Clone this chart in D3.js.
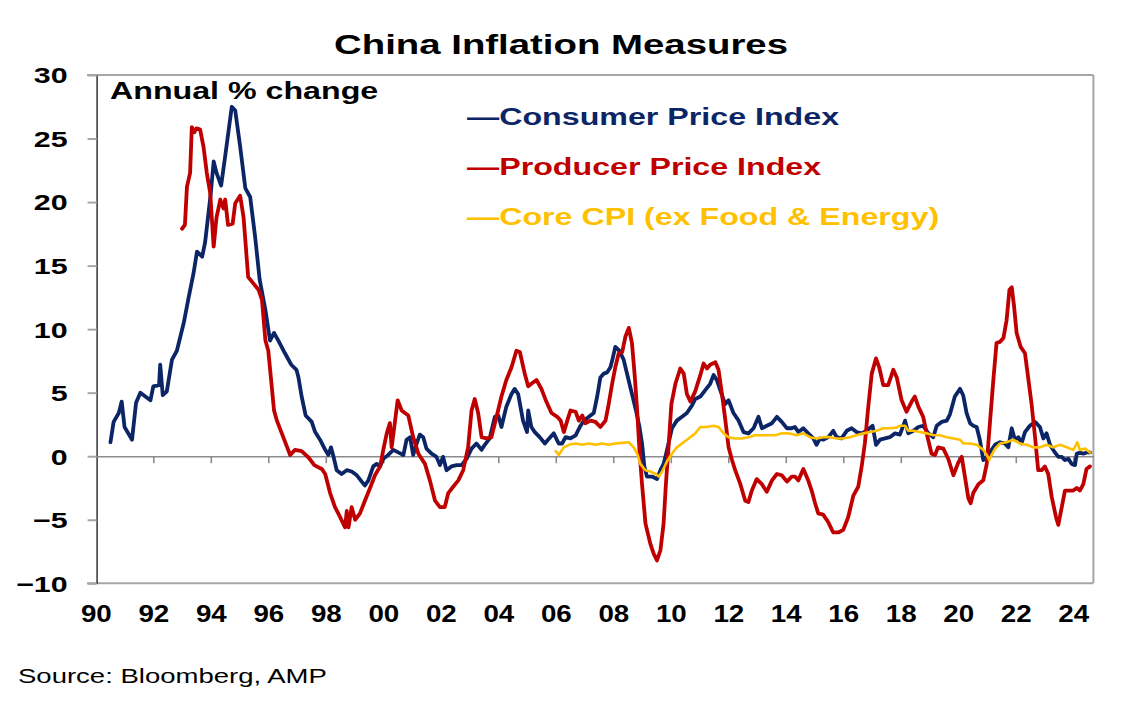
<!DOCTYPE html>
<html><head><meta charset="utf-8">
<script src="https://cdn.jsdelivr.net/npm/d3@7"></script>
<style>body{margin:0;background:#fff}svg{display:block}text{font-family:"Liberation Sans",Arial,sans-serif}</style>
</head><body><svg id="c" width="1124" height="718"></svg>
<script>
// ---- data ----
const titleText = "China Inflation Measures";
const unitText = "Annual % change";
const sourceText = "Source: Bloomberg, AMP";
const seriesNames = ["Consumer Price Index", "Producer Price Index", "Core CPI (ex Food & Energy)"];
const yTicks = [-10, -5, 0, 5, 10, 15, 20, 25, 30];
const xTickYears = [1990,1992,1994,1996,1998,2000,2002,2004,2006,2008,2010,2012,2014,2016,2018,2020,2022,2024];
const xTickLabels = ["90","92","94","96","98","00","02","04","06","08","10","12","14","16","18","20","22","24"];

const cpiYears = [1990.51,1990.62,1990.8,1990.9,1991.0,1991.26,1991.4,1991.55,1991.78,1991.9,1992.0,1992.2,1992.24,1992.33,1992.47,1992.65,1992.82,1993.06,1993.23,1993.4,1993.52,1993.7,1993.8,1994.0,1994.1,1994.2,1994.36,1994.5,1994.73,1994.85,1995.02,1995.2,1995.37,1995.54,1995.7,1995.9,1996.06,1996.2,1996.35,1996.58,1996.8,1996.98,1997.05,1997.16,1997.3,1997.51,1997.63,1997.8,1997.98,1998.09,1998.18,1998.27,1998.38,1998.55,1998.73,1998.9,1999.08,1999.25,1999.36,1999.48,1999.65,1999.77,1999.89,2000.0,2000.17,2000.35,2000.52,2000.7,2000.81,2000.93,2001.04,2001.16,2001.27,2001.39,2001.5,2001.68,2001.85,2001.97,2002.08,2002.2,2002.37,2002.55,2002.72,2002.9,2003.07,2003.24,2003.42,2003.53,2003.7,2003.88,2004.0,2004.11,2004.28,2004.46,2004.57,2004.69,2004.86,2005.0,2005.04,2005.15,2005.27,2005.44,2005.62,2005.73,2005.93,2006.1,2006.22,2006.34,2006.51,2006.69,2006.86,2006.98,2007.15,2007.32,2007.44,2007.55,2007.67,2007.79,2007.9,2007.98,2008.07,2008.21,2008.36,2008.51,2008.65,2008.79,2008.91,2009.0,2009.08,2009.17,2009.35,2009.52,2009.64,2009.75,2009.87,2010.04,2010.21,2010.39,2010.56,2010.74,2010.85,2011.03,2011.2,2011.37,2011.49,2011.6,2011.72,2011.89,2012.01,2012.18,2012.36,2012.53,2012.7,2012.88,2013.05,2013.17,2013.34,2013.52,2013.69,2013.86,2014.04,2014.2,2014.32,2014.44,2014.61,2014.78,2014.96,2015.07,2015.19,2015.3,2015.48,2015.65,2015.77,2015.94,2016.12,2016.29,2016.46,2016.64,2016.81,2017.02,2017.14,2017.28,2017.45,2017.62,2017.8,2017.97,2018.15,2018.26,2018.44,2018.61,2018.78,2018.96,2019.13,2019.25,2019.42,2019.6,2019.71,2019.88,2020.06,2020.17,2020.29,2020.41,2020.52,2020.64,2020.75,2020.87,2020.99,2021.16,2021.28,2021.45,2021.62,2021.74,2021.86,2021.97,2022.09,2022.2,2022.32,2022.49,2022.67,2022.84,2022.96,2023.07,2023.19,2023.36,2023.48,2023.6,2023.71,2023.83,2023.94,2024.06,2024.12,2024.23,2024.35,2024.46,2024.58];
const cpiValues = [1.1,2.7,3.4,4.3,2.3,1.3,4.2,5.0,4.6,4.4,5.5,5.6,7.2,4.8,5.1,7.6,8.3,10.5,12.5,14.4,16.1,15.7,16.8,20.7,23.2,22.3,21.3,23.6,27.5,27.2,24.4,21.1,20.4,17.3,13.9,11.5,9.1,9.7,9.1,8.1,7.2,6.8,6.2,4.7,3.2,2.7,1.9,1.3,0.5,0.1,0.7,-0.05,-1.1,-1.4,-1.1,-1.2,-1.5,-2.0,-2.3,-1.9,-0.8,-0.6,-0.8,-0.2,0.1,0.5,0.3,0.1,1.3,1.5,0.1,1.0,1.7,1.5,0.6,0.2,-0.05,-0.7,-0.05,-1.1,-0.8,-0.7,-0.7,-0.2,0.6,1.0,0.5,0.9,1.4,3.1,3.2,2.3,3.9,4.9,5.3,4.9,2.8,1.9,3.6,2.3,1.9,1.5,1.0,1.3,1.8,1.0,1.0,1.5,1.4,1.65,2.4,2.8,3.1,3.4,4.7,6.2,6.5,6.6,7.0,7.7,8.6,8.3,7.6,6.2,4.9,3.6,2.3,1.0,-0.8,-1.6,-1.6,-1.8,-1.1,-0.6,0.5,2.2,2.8,3.1,3.4,4.0,4.5,4.7,5.2,5.7,6.4,6.0,5.2,4.1,4.4,3.4,2.8,1.9,1.8,2.2,3.1,2.2,2.4,2.6,3.1,2.7,2.2,2.2,2.3,1.9,2.2,1.8,1.4,0.9,1.4,1.3,1.5,2.0,1.5,1.4,2.0,2.2,1.9,1.8,2.0,2.4,0.9,1.3,1.4,1.5,1.8,1.7,2.8,1.8,2.0,2.3,2.4,1.8,1.5,2.4,2.7,2.8,3.3,4.7,5.3,4.8,3.4,2.6,2.4,2.3,1.3,-0.3,-0.05,0.5,0.9,1.1,1.0,0.7,2.2,1.3,1.5,1.0,1.9,2.4,2.7,2.3,1.4,1.8,0.9,0.3,-0.05,-0.05,-0.3,-0.2,-0.6,-0.7,0.2,0.3,0.2,0.3,0.3];

const ppiYears = [1993.0,1993.1,1993.17,1993.28,1993.34,1993.43,1993.5,1993.63,1993.75,1993.86,1993.98,1994.1,1994.2,1994.33,1994.44,1994.5,1994.6,1994.76,1994.85,1995.02,1995.14,1995.3,1995.48,1995.66,1995.78,1995.9,1996.0,1996.2,1996.3,1996.47,1996.76,1996.93,1997.16,1997.4,1997.6,1997.86,1997.98,1998.15,1998.32,1998.5,1998.67,1998.73,1998.79,1998.9,1999.02,1999.19,1999.36,1999.54,1999.71,1999.89,2000.0,2000.12,2000.23,2000.29,2000.41,2000.5,2000.64,2000.87,2001.04,2001.22,2001.45,2001.62,2001.8,2001.97,2002.14,2002.26,2002.43,2002.61,2002.78,2002.95,2003.07,2003.18,2003.3,2003.42,2003.59,2003.76,2003.94,2004.11,2004.28,2004.46,2004.63,2004.75,2004.92,2005.04,2005.15,2005.33,2005.5,2005.67,2005.85,2006.05,2006.17,2006.28,2006.4,2006.51,2006.69,2006.8,2006.92,2007.03,2007.21,2007.38,2007.55,2007.73,2007.84,2007.96,2008.07,2008.19,2008.31,2008.42,2008.54,2008.65,2008.75,2008.83,2008.91,2009.0,2009.12,2009.29,2009.41,2009.52,2009.64,2009.75,2009.83,2009.93,2010.02,2010.16,2010.33,2010.45,2010.56,2010.68,2010.85,2011.03,2011.14,2011.26,2011.37,2011.55,2011.66,2011.78,2011.9,2012.01,2012.13,2012.24,2012.42,2012.59,2012.7,2012.82,2012.99,2013.17,2013.34,2013.52,2013.69,2013.86,2014.04,2014.21,2014.32,2014.44,2014.61,2014.78,2014.9,2015.02,2015.13,2015.3,2015.48,2015.65,2015.83,2016.0,2016.17,2016.35,2016.52,2016.64,2016.75,2016.87,2016.99,2017.14,2017.25,2017.39,2017.56,2017.74,2017.86,2018.03,2018.2,2018.38,2018.49,2018.61,2018.78,2018.9,2019.07,2019.19,2019.3,2019.48,2019.65,2019.83,2020.0,2020.12,2020.23,2020.35,2020.43,2020.52,2020.7,2020.87,2020.99,2021.1,2021.22,2021.33,2021.45,2021.57,2021.68,2021.78,2021.86,2021.94,2022.03,2022.17,2022.32,2022.43,2022.55,2022.67,2022.78,2022.9,2023.01,2023.13,2023.25,2023.4,2023.48,2023.6,2023.71,2023.89,2024.0,2024.12,2024.23,2024.35,2024.46,2024.58];
const ppiValues = [17.9,18.2,21.2,22.3,25.9,25.5,25.8,25.7,24.3,22.3,20.7,16.5,18.8,20.2,19.5,20.2,18.2,18.3,19.9,20.5,18.8,14.1,13.6,13.1,12.3,9.1,8.3,3.6,2.8,1.8,0.1,0.5,0.4,-0.1,-0.7,-1.0,-1.4,-2.9,-4.0,-4.8,-5.6,-4.3,-5.6,-4.0,-5.0,-4.5,-3.5,-2.5,-1.5,-0.8,0.5,1.8,2.6,0.7,2.8,4.4,3.6,3.2,1.5,0.2,-0.6,-1.9,-3.5,-4.0,-4.0,-2.9,-2.4,-1.9,-1.1,0.7,3.6,4.5,3.4,1.5,1.4,1.5,3.1,4.7,6.0,7.0,8.3,8.2,6.5,5.5,5.7,6.0,5.3,4.3,3.4,3.1,2.8,1.9,2.8,3.6,3.5,2.8,3.2,2.6,2.8,2.7,2.3,2.8,4.1,5.7,7.0,8.1,8.2,9.4,10.1,8.9,6.2,3.6,0.5,-2.2,-5.3,-6.9,-7.7,-8.2,-7.4,-5.3,-2.2,1.0,4.1,5.7,6.9,6.5,4.9,4.3,5.1,6.4,7.3,6.9,7.2,7.4,6.8,4.9,2.8,0.7,-0.3,-1.1,-2.2,-3.5,-3.6,-2.7,-1.8,-2.2,-2.8,-1.9,-1.4,-1.5,-2.0,-1.6,-1.6,-1.9,-1.0,-1.9,-2.7,-3.7,-4.5,-4.6,-5.2,-6.0,-6.0,-5.8,-4.8,-3.1,-2.4,-0.8,1.0,3.9,6.5,7.7,7.0,5.6,5.6,6.8,6.2,4.4,3.5,4.3,4.7,3.9,3.1,1.8,0.2,0.1,0.7,0.6,-0.2,-1.5,-0.5,-0.05,-1.6,-3.3,-3.7,-2.9,-2.2,-1.9,-0.6,2.6,6.0,8.9,9.0,9.3,10.7,13.1,13.3,11.8,9.7,8.6,8.1,6.2,4.1,1.5,-1.1,-1.1,-0.8,-1.4,-3.2,-4.8,-5.4,-4.0,-2.7,-2.7,-2.7,-2.5,-2.7,-2.2,-1.0,-0.8];

const coreYears = [2006.0,2006.1,2006.28,2006.45,2006.69,2006.92,2007.15,2007.38,2007.61,2007.84,2008.07,2008.31,2008.54,2008.71,2008.83,2008.94,2009.12,2009.29,2009.47,2009.58,2009.7,2009.87,2010.04,2010.21,2010.39,2010.62,2010.85,2011.03,2011.26,2011.49,2011.66,2011.84,2012.01,2012.24,2012.47,2012.7,2012.93,2013.17,2013.4,2013.63,2013.86,2014.1,2014.38,2014.61,2014.84,2015.07,2015.3,2015.54,2015.77,2015.99,2016.23,2016.46,2016.7,2016.93,2017.16,2017.39,2017.62,2017.86,2017.97,2018.15,2018.26,2018.44,2018.67,2018.9,2019.13,2019.36,2019.6,2019.83,2020.06,2020.18,2020.41,2020.64,2020.87,2020.99,2021.08,2021.16,2021.28,2021.45,2021.68,2021.91,2022.14,2022.38,2022.61,2022.84,2023.07,2023.3,2023.54,2023.77,2024.0,2024.14,2024.23,2024.41,2024.58];
const coreValues = [0.4,0.1,0.7,0.9,1.0,0.9,1.0,0.9,1.0,0.9,1.0,1.05,1.1,0.7,0.2,-0.6,-1.1,-1.2,-1.4,-1.6,-1.2,-0.4,0.2,0.7,1.0,1.4,1.8,2.3,2.3,2.4,2.3,1.8,1.5,1.4,1.4,1.5,1.65,1.65,1.65,1.65,1.8,1.8,1.65,1.8,1.5,1.4,1.5,1.5,1.4,1.4,1.5,1.65,1.8,1.9,2.0,2.2,2.2,2.25,2.4,2.4,2.0,2.0,1.9,1.8,1.65,1.65,1.5,1.4,1.3,1.0,1.0,0.9,0.5,0.1,-0.3,0.1,0.6,1.0,1.1,1.3,1.0,0.9,0.7,0.7,0.9,0.7,0.9,0.7,0.5,1.1,0.5,0.6,0.3];

const colors = ["#0b2566", "#c00000", "#ffc000"];

// ---- chart ----
const svg = d3.select("#c");
svg.append("rect").attr("width",1124).attr("height",718).attr("fill","#fff");

const x = d3.scaleLinear().domain([1990, 2024.7]).range([95.8, 1093.4]);
const y = d3.scaleLinear().domain([-10, 30]).range([583.3, 75]);

function stretched(g, str, tx, ty, sx, opts) {
  return g.append("text").text(str)
    .attr("transform", `translate(${tx},${ty}) scale(${sx},1)`)
    .attr("font-size", opts.size).attr("font-weight", opts.weight || "bold")
    .attr("fill", opts.fill || "#000")
    .attr("text-anchor", opts.anchor || "start");
}

// frame
const frame = svg.append("g");
frame.append("line").attr("x1",87).attr("x2",x.range()[1]).attr("y1",y(30)).attr("y2",y(30)).attr("stroke","#a6a6a6").attr("stroke-width",2);
frame.append("line").attr("x1",87).attr("x2",x.range()[1]).attr("y1",y(-10)).attr("y2",y(-10)).attr("stroke","#a6a6a6").attr("stroke-width",2);
frame.append("line").attr("x1",x.range()[1]).attr("x2",x.range()[1]).attr("y1",y(30)).attr("y2",y(-10)).attr("stroke","#a6a6a6").attr("stroke-width",2);

// y axis
const yAxis = svg.append("g").attr("transform",`translate(${x.range()[0]+0.8},0)`)
  .call(d3.axisLeft(y).tickValues(yTicks).tickSize(9).tickSizeOuter(0).tickFormat(d3.format("d")));
yAxis.select(".domain").attr("stroke","#333").attr("stroke-width",1.5);
yAxis.selectAll(".tick line").attr("stroke","#a6a6a6").attr("stroke-width",2);
yAxis.selectAll(".tick text")
  .attr("font-size",22).attr("font-weight","bold").attr("fill","#000")
  .attr("font-family",'"Liberation Sans",Arial,sans-serif')
  .attr("x", -21).attr("dy","0.36em")
  .attr("transform","scale(1.38,1)");

// zero line with ticks
const zAxis = svg.append("g").attr("transform",`translate(0,${y(0)})`)
  .call(d3.axisBottom(x).tickValues(xTickYears.slice(1)).tickSize(7).tickSizeOuter(0).tickFormat(""));
zAxis.select(".domain").attr("stroke","#8c8c8c").attr("stroke-width",1.6);
zAxis.selectAll(".tick line").attr("stroke","#8c8c8c").attr("stroke-width",1.6);

// x axis labels
const xAxis = svg.append("g").attr("transform",`translate(0,${y(-10)})`)
  .call(d3.axisBottom(x).tickValues(xTickYears).tickSize(0).tickFormat((d,i)=>xTickLabels[i]));
xAxis.select(".domain").remove();
xAxis.selectAll(".tick text")
  .attr("font-size",23.5).attr("font-weight","bold").attr("fill","#000")
  .attr("font-family",'"Liberation Sans",Arial,sans-serif')
  .attr("x",0).attr("y",38.5).attr("dy",0)
  .attr("text-anchor","middle")
  .attr("transform","scale(1.18,1)");

// lines
const line = d3.line().x(d=>x(d[0])).y(d=>y(d[1]));
const seriesData = [
  d3.zip(cpiYears, cpiValues),
  d3.zip(ppiYears, ppiValues),
  d3.zip(coreYears, coreValues)
];
const widths = [3.8, 3.8, 2.6];
seriesData.forEach((s,i)=>{
  svg.append("path").datum(s).attr("d",line).attr("fill","none")
    .attr("stroke",colors[i]).attr("stroke-width",widths[i])
    .attr("stroke-linejoin","round").attr("stroke-linecap","round");
});

// texts
const tg = svg.append("g");
stretched(tg, titleText, 561, 54, 1.37, {size:28, anchor:"middle"});
stretched(tg, unitText, 110, 99, 1.37, {size:23.5});
const legendY = [125, 175, 225];
seriesNames.forEach((n,i)=>{
  stretched(tg, "\u2014" + n, 467, legendY[i], 1.4, {size:23, fill:colors[i]});
});
stretched(tg, sourceText, 18, 683, 1.31, {size:21, weight:"normal"});
</script></body></html>
